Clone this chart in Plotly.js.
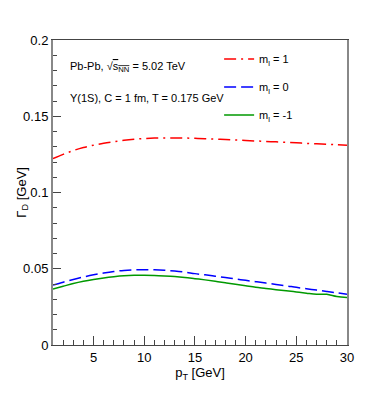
<!DOCTYPE html>
<html>
<head>
<meta charset="utf-8">
<script src="https://cdn.plot.ly/plotly-3.0.1.min.js"></script>
<style>
  html, body { margin: 0; padding: 0; background: #fff; }
  #chart { width: 378px; height: 402px; }
</style>
</head>
<body>
<div id="chart"></div>
<script>
// transverse momentum (GeV)
const pT = [1, 2, 3, 4, 5, 6, 7, 8, 9, 10, 11, 12, 13, 14, 15,
            16, 17, 18, 19, 20, 21, 22, 23, 24, 25, 26, 27, 28, 29, 30];

// dissociation width Gamma_D (GeV) for each m_l
const gammaMl1 = [0.1222, 0.1250, 0.1275, 0.1295, 0.1310, 0.1323, 0.1333, 0.1342, 0.1349, 0.1354,
                  0.1357, 0.1358, 0.1358, 0.1357, 0.1355, 0.1353, 0.1350, 0.1347, 0.1344, 0.1341,
                  0.1338, 0.1335, 0.1332, 0.1329, 0.1326, 0.1322, 0.1319, 0.1316, 0.1313, 0.1310];
const gammaMl0 = [0.0393, 0.0412, 0.0430, 0.0446, 0.0460, 0.0472, 0.0482, 0.0489, 0.0493, 0.0494,
                  0.0493, 0.0490, 0.0485, 0.0478, 0.0468, 0.0460, 0.0451, 0.0442, 0.0433, 0.0424,
                  0.0415, 0.0406, 0.0397, 0.0388, 0.0378, 0.0369, 0.0360, 0.0351, 0.0342, 0.0333];
const gammaMlm1 = [0.0367, 0.0385, 0.0403, 0.0418, 0.0430, 0.0440, 0.0448, 0.0454, 0.0457, 0.0457,
                   0.0456, 0.0453, 0.0449, 0.0443, 0.0435, 0.0427, 0.0418, 0.0408, 0.0398, 0.0388,
                   0.0378, 0.0371, 0.0363, 0.0356, 0.0348, 0.0340, 0.0333, 0.0332, 0.0318, 0.0311];

const font = 'Liberation Sans, Arial, sans-serif';

const data = [
    {
        x: pT, y: gammaMl1, type: 'scatter', mode: 'lines',
        name: 'm<sub>l</sub> = 1', legendgroup: 'a',
        line: { color: '#ff0000', width: 1.5, dash: '12px,5px,2px,5px', shape: 'spline' }
    },
    {
        x: pT, y: gammaMl0, type: 'scatter', mode: 'lines',
        name: 'm<sub>l</sub> = 0', legendgroup: 'b',
        line: { color: '#0000ff', width: 1.5, dash: '12px,5px', shape: 'spline' }
    },
    {
        x: pT, y: gammaMlm1, type: 'scatter', mode: 'lines',
        name: 'm<sub>l</sub> = -1', legendgroup: 'c',
        line: { color: '#009900', width: 1.5, shape: 'spline' }
    }
];

const layout = {
    width: 378,
    height: 402,
    margin: { l: 53, r: 31, t: 40, b: 57 },
    paper_bgcolor: '#ffffff',
    plot_bgcolor: '#ffffff',
    font: { family: font, size: 13, color: '#000' },
    showlegend: true,
    legend: {
        x: 0.565, y: 0.985, xanchor: 'left', yanchor: 'top',
        bgcolor: 'rgba(0,0,0,0)',
        font: { family: font, size: 11 },
        tracegroupgap: 9,
        itemwidth: 30
    },
    xaxis: {
        range: [1, 30],
        tick0: 0, dtick: 5,
        ticks: 'inside', ticklen: 9, tickcolor: '#444',
        minor: { dtick: 1, ticks: 'inside', ticklen: 5, tickcolor: '#444' },
        showgrid: false, zeroline: false,
        showline: true, linecolor: '#444', linewidth: 1, mirror: true,
        tickfont: { family: font, size: 13 },
        title: { text: 'p<sub>T</sub> [GeV]', font: { family: font, size: 13 }, standoff: 4 }
    },
    yaxis: {
        range: [0, 0.2],
        tick0: 0, dtick: 0.05,
        ticks: 'inside', ticklen: 8, tickcolor: '#444',
        minor: { dtick: 0.01, ticks: 'inside', ticklen: 4, tickcolor: '#444' },
        showgrid: false, zeroline: false,
        showline: true, linecolor: '#888', linewidth: 2, mirror: true,
        tickfont: { family: font, size: 13 }
    },
    annotations: [
        {
            xref: 'paper', yref: 'paper', x: -0.105, y: 0.5, xanchor: 'center', yanchor: 'middle',
            text: 'Γ<sub>D</sub> [GeV]', textangle: -90,
            showarrow: false, font: { family: font, size: 13 }
        },
        {
            xref: 'paper', yref: 'paper', x: 0.05, y: 0.91, xanchor: 'left', yanchor: 'middle',
            text: 'Pb-Pb, √<span style="text-decoration:overline">s<sub>NN</sub></span> = 5.02 TeV',
            showarrow: false, font: { family: font, size: 11 }
        },
        {
            xref: 'paper', yref: 'paper', x: 0.05, y: 0.81, xanchor: 'left', yanchor: 'middle',
            text: 'Υ(1S), C = 1 fm, T = 0.175 GeV',
            showarrow: false, font: { family: font, size: 11 }
        }
    ]
};

Plotly.newPlot('chart', data, layout, { displayModeBar: false, staticPlot: true });
</script>
</body>
</html>
